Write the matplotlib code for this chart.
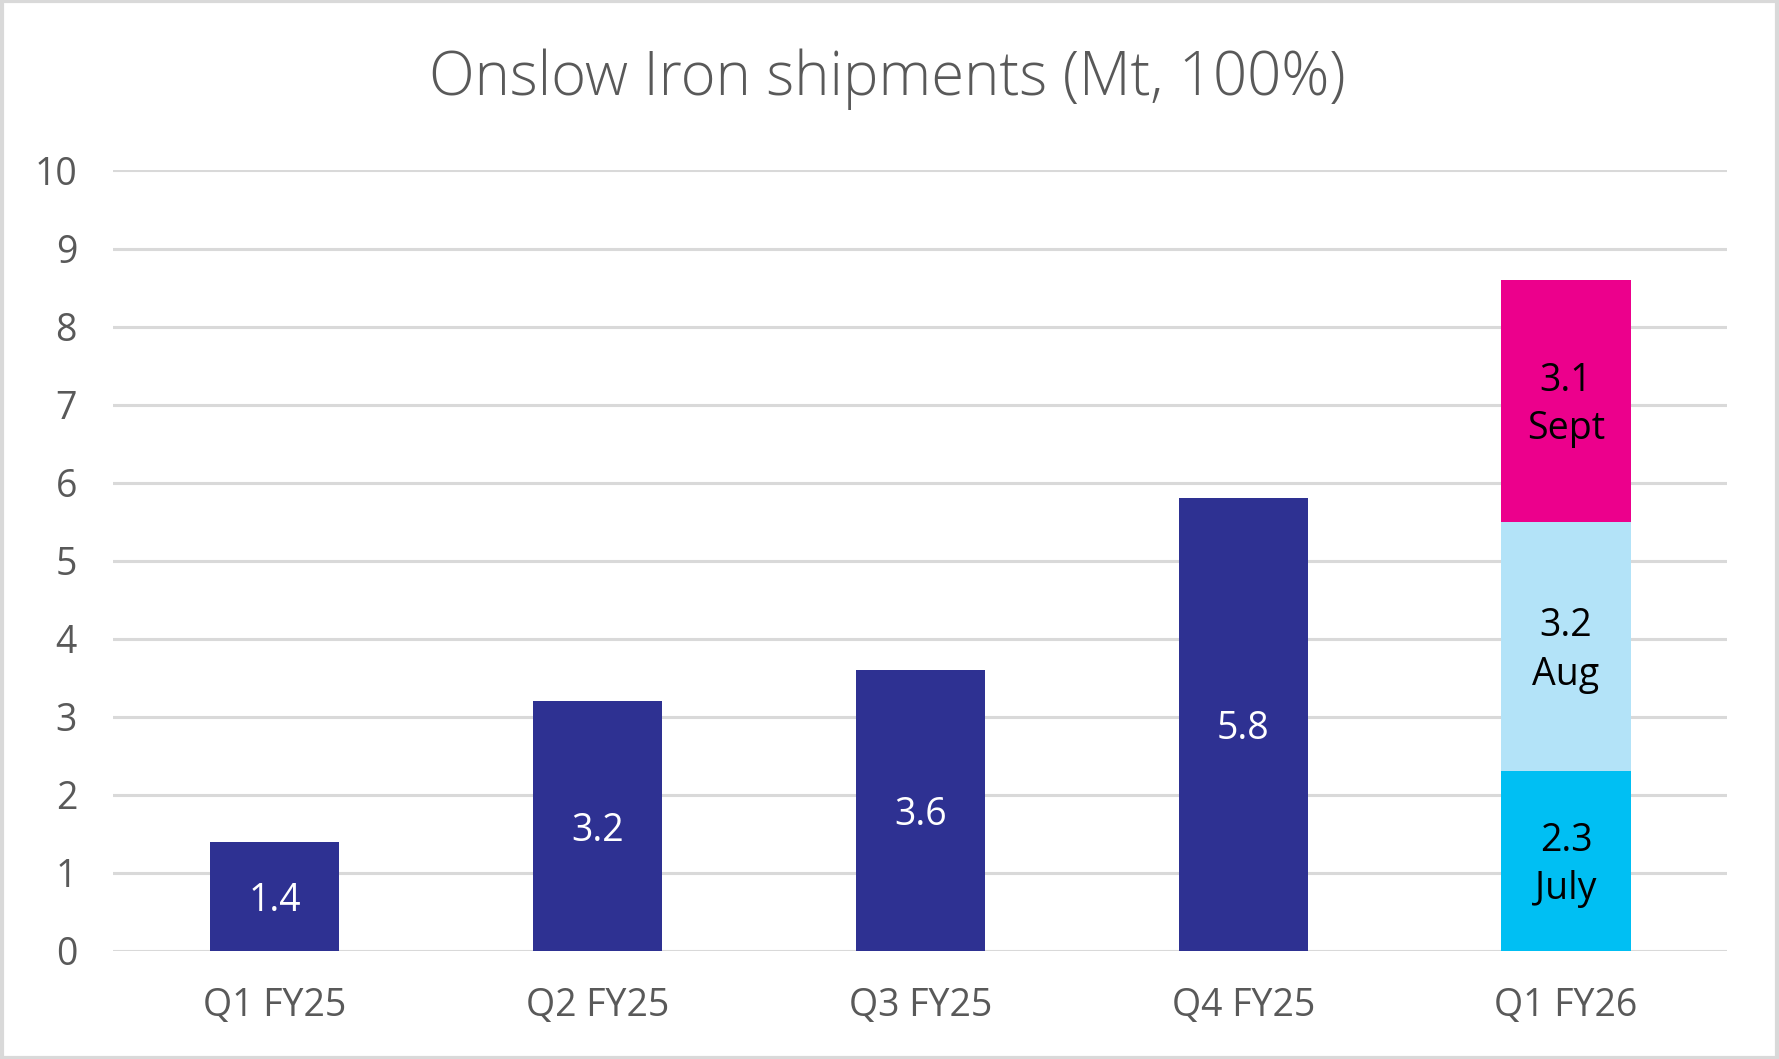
import numpy as np
import matplotlib
matplotlib.use('Agg')
import matplotlib.pyplot as plt
from matplotlib.patches import Rectangle

### chart data
quarters = ['Q1 FY25', 'Q2 FY25', 'Q3 FY25', 'Q4 FY25', 'Q1 FY26']
totals = [1.4, 3.2, 3.6, 5.8, None]
months = ['July', 'Aug', 'Sept']
month_values = [2.3, 3.2, 3.1]
yticks = [0, 1, 2, 3, 4, 5, 6, 7, 8, 9, 10]

navy = '#2E3192'
month_colors = ['#00BFF3', '#B3E3F8', '#EC008C']
grid_color = '#D9D9D9'
text_grey = '#595959'

plt.rcParams['font.family'] = ['Open Sans', 'DejaVu Sans']

fig = plt.figure(figsize=(17.79, 10.59), dpi=100)
ax = fig.add_axes([0.0636, 0.102, 0.9074, 0.737])

x = np.arange(len(quarters))
width = 0.4

# single-value quarters
for i, v in enumerate(totals):
    if v is None:
        continue
    ax.bar(x[i], v, width, color=navy, zorder=3)
    ax.text(x[i], v / 2, '%.1f' % v, ha='center', va='center_baseline',
            color='white', fontsize=27, zorder=4)

# last quarter stacked by month
bottom = 0.0
for m, v, c in zip(months, month_values, month_colors):
    ax.bar(x[-1], v, width, bottom=bottom, color=c, zorder=3)
    ax.text(x[-1], bottom + v / 2 - 0.05, '%.1f\n%s' % (v, m), ha='center',
            va='center', color='black', fontsize=27, linespacing=1.35, zorder=4)
    bottom += v

ax.set_xlim(-0.5, len(quarters) - 0.5)
ax.set_ylim(0, 10)
ax.set_yticks(yticks)
ax.set_yticklabels([str(t) for t in yticks])
ax.set_xticks(x)
ax.set_xticklabels(quarters)
ax.tick_params(axis='both', length=0, labelsize=27, labelcolor=text_grey)
ax.tick_params(axis='y', pad=26)
ax.tick_params(axis='x', pad=26)
for lab in ax.get_yticklabels():
    lab.set_horizontalalignment('right')

ax.yaxis.grid(True, color=grid_color, linewidth=2.2, zorder=0)
for s in ax.spines.values():
    s.set_visible(False)

fig.text(0.499, 0.925, 'Onslow Iron shipments (Mt, 100%)', ha='center',
         va='center', fontsize=43, color=text_grey, fontweight='light')

# light border round the whole chart
fig.patches.append(Rectangle((0.001, 0.001), 0.998, 0.998, transform=fig.transFigure,
                             fill=False, edgecolor=grid_color, linewidth=3))

fig.savefig('out.png', dpi=100)
